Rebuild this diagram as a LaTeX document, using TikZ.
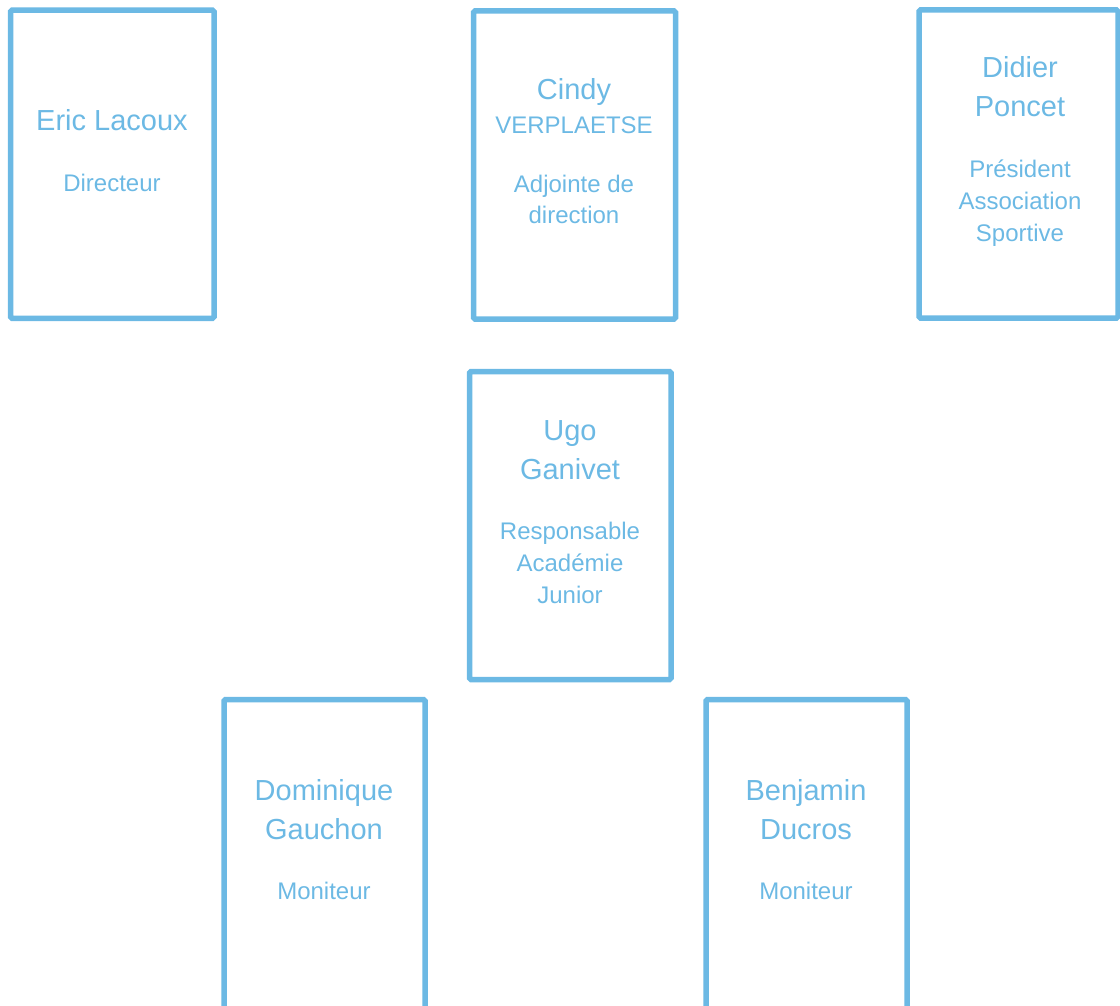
\documentclass[tikz,border=0pt]{standalone}
\usepackage{fontspec}
\setmainfont{Liberation Sans}
\definecolor{boxblue}{RGB}{108,185,228}
\begin{document}
\begin{tikzpicture}[x=1pt,y=-1pt,
  card/.style={draw=boxblue, line width=5.5pt, rounded corners=1.5pt, minimum width=#1, minimum height=308pt, inner sep=0pt, outer sep=0pt},
  card/.default=202pt,
  nm/.style={text=boxblue, anchor=base, inner sep=0pt, font=\fontsize{29}{34}\selectfont},
  rl/.style={text=boxblue, anchor=base, inner sep=0pt, font=\fontsize{24}{29}\selectfont}]
\useasboundingbox (0,0) rectangle (1120,1006);
% boxes
\node[card=203.5pt] (eric) at (112.25,164.25) {};
\node[card=202pt] (cindy) at (574.5,165) {};
\node[card=199pt] (didier) at (1018.5,164) {};
\node[card=201.5pt] (ugo) at (570.25,525.5) {};
\node[card=201pt, minimum height=309.5pt] (dominique) at (324.5,854.25) {};
\node[card=201pt, minimum height=309.5pt] (benjamin) at (806.5,854.25) {};
% Eric
\node[nm] (ericN) at (112,131) {Eric Lacoux};
\node[rl] (ericR) at (112,191.5) {Directeur};
% Cindy
\node[nm] (cindyN1) at (574,99.5) {Cindy};
\node[rl] (cindyN2) at (574,133.5) {VERPLAETSE};
\node[rl] (cindyR1) at (574,192.5) {Adjointe de};
\node[rl] (cindyR2) at (574,223.5) {direction};
% Didier
\node[nm] (didierN1) at (1020,78) {Didier};
\node[nm] (didierN2) at (1020,117) {Poncet};
\node[rl] (didierR1) at (1020,177.5) {Président};
\node[rl] (didierR2) at (1020,209.5) {Association};
\node[rl] (didierR3) at (1020,241.5) {Sportive};
% Ugo
\node[nm] (ugoN1) at (570,440) {Ugo};
\node[nm] (ugoN2) at (570,479) {Ganivet};
\node[rl] (ugoR1) at (570,539.5) {Responsable};
\node[rl] (ugoR2) at (570,571.5) {Académie};
\node[rl] (ugoR3) at (570,603.5) {Junior};
% Dominique
\node[nm] (domN1) at (324,800) {Dominique};
\node[nm] (domN2) at (324,839) {Gauchon};
\node[rl] (domR) at (324,899.5) {Moniteur};
% Benjamin
\node[nm] (benN1) at (806,800) {Benjamin};
\node[nm] (benN2) at (806,839) {Ducros};
\node[rl] (benR) at (806,899.5) {Moniteur};
\end{tikzpicture}
\end{document}
